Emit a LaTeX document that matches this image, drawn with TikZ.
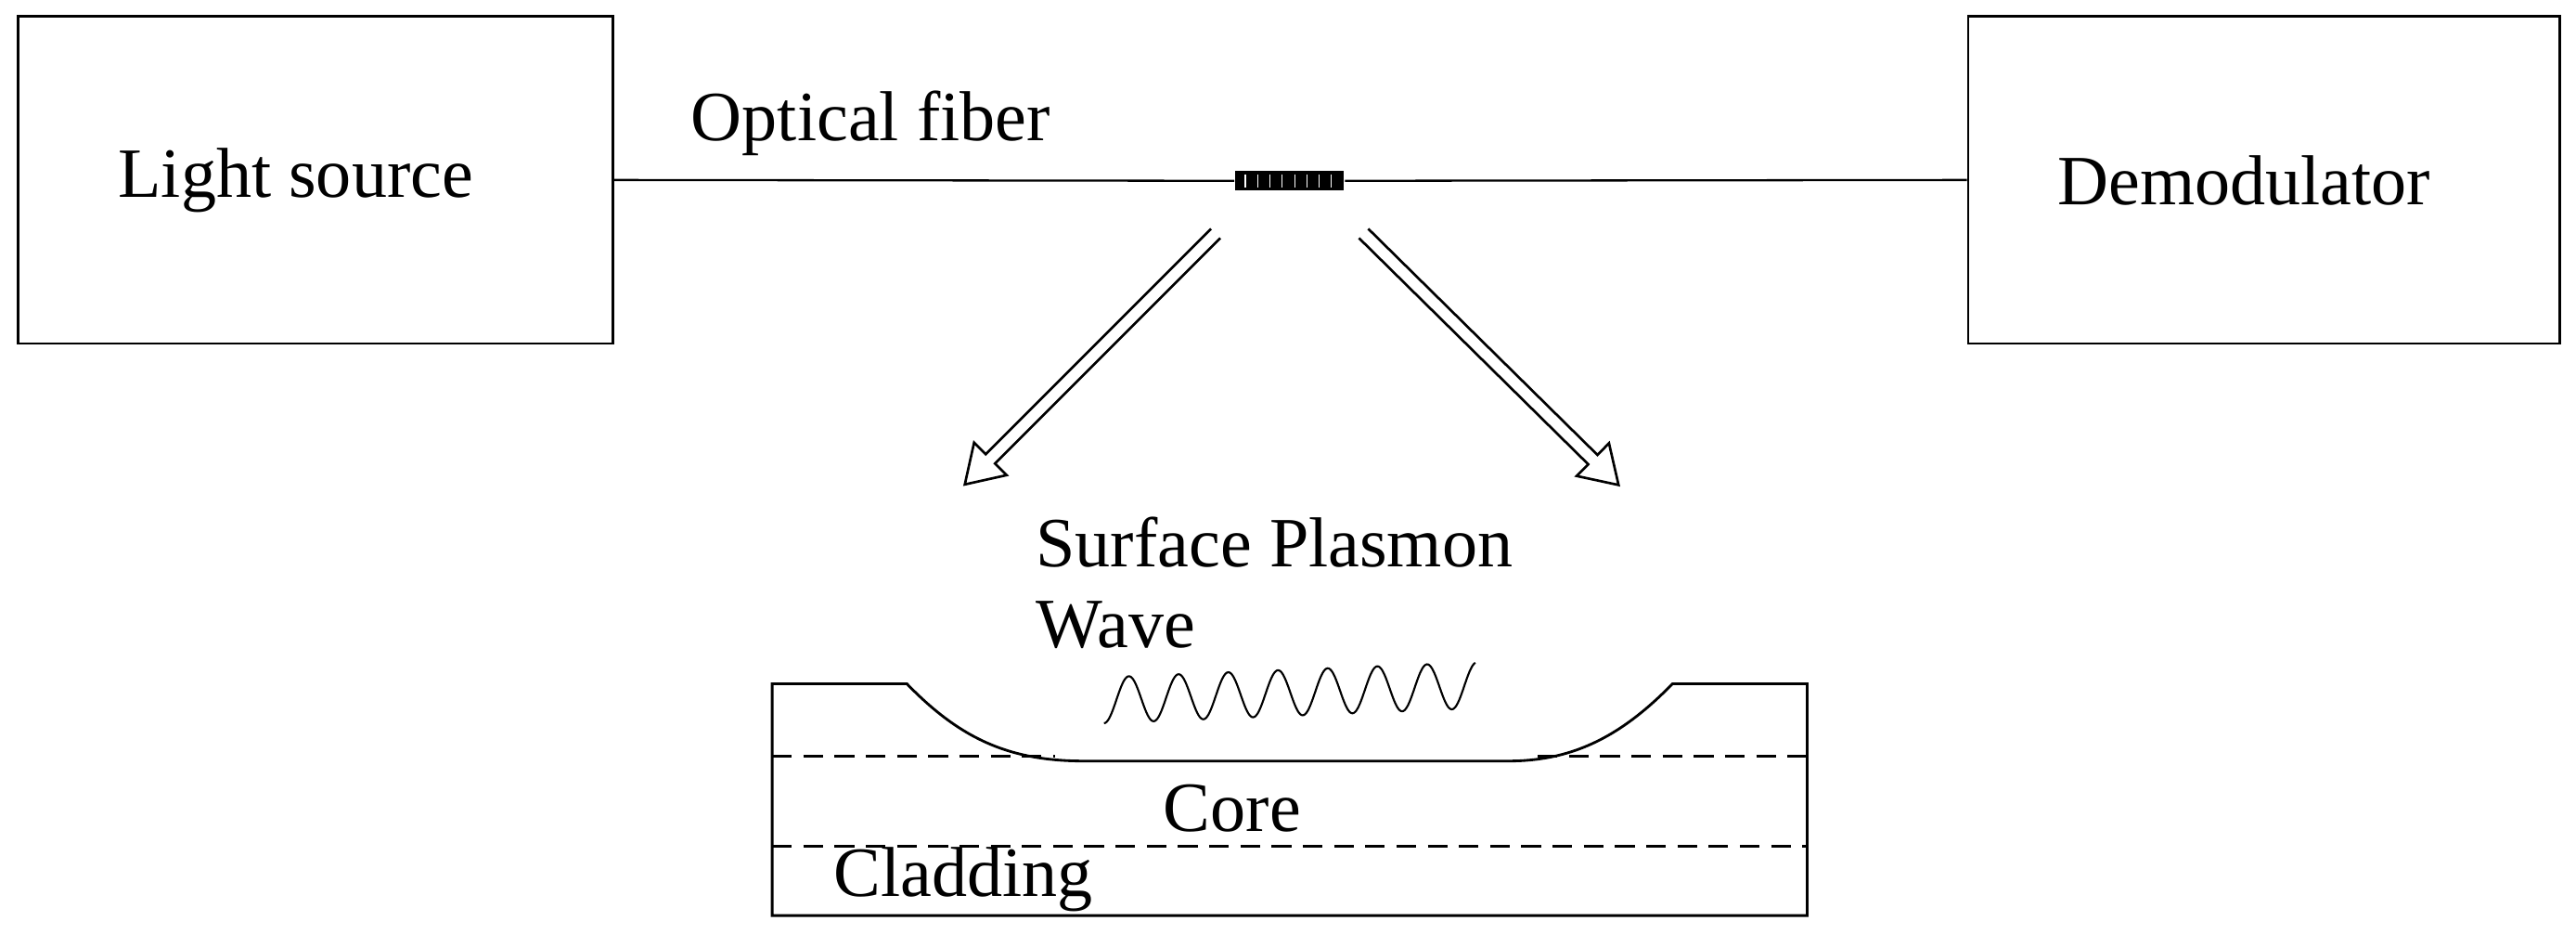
\documentclass[tikz,border=0pt]{standalone}
\usepackage{fontspec}
\setmainfont{Liberation Serif}
\begin{document}
\begin{tikzpicture}[x=1pt,y=-1pt,line width=1.3pt,
  lbl/.style={font=\fontsize{43}{48}\selectfont,inner sep=0pt},
  box/.style={draw,line width=1.6pt,inner sep=0pt},
  dsh/.style={dashed,dash pattern=on 12pt off 7pt,line width=1.6pt}]
\useasboundingbox (0,0) rectangle (1568,568);
\node[box,minimum width=362pt,minimum height=199pt] (ls) at (192,109.5) {};
\node[lbl] at (180,110) {Light source};
\node[box,minimum width=360pt,minimum height=199pt] (dm) at (1378,109.5) {};
\node[lbl] at (1366,110) {Demodulator};
\node[fill=black,minimum width=66pt,minimum height=12pt,inner sep=0pt] (sen) at (785,110) {};
\draw (ls.east) -- (sen.west);
\draw (sen.east) -- (dm.west);
\node[lbl] (of) at (530,75) {Optical fiber};
\foreach \x in {0,...,7}{\draw[white,line width=0.6pt] (758+\x*7.5,106)--(758+\x*7.5,114);}
\coordinate (a1) at (740,142);
\coordinate (a2) at (830,142);
\begin{scope}[shift={(a1)},rotate=-135,line width=1.5pt]
\draw (0,4)--(194,4)--(194,14)--(216,0)--(194,-14)--(194,-4)--(0,-4);
\end{scope}
\begin{scope}[shift={(a2)},rotate=-44.6,line width=1.5pt]
\draw (0,4)--(196,4)--(196,14)--(218,0)--(196,-14)--(196,-4)--(0,-4);
\end{scope}
\node[lbl,anchor=west] at (630,330) {Surface Plasmon};
\node[lbl,anchor=west] at (630,380) {Wave};
\draw[line width=1.6pt] (470,416)--(470,557)--(1100,557)--(1100,416)--(1018,416)
  .. controls (985,450) and (955,463) .. (918,463) -- (660,463)
  .. controls (615,463) and (585,450) .. (552,416) -- cycle;
\draw[dsh] (470,460)--(642,460);
\draw[dsh] (936,460)--(1100,460);
\draw[dsh] (470,515)--(1100,515);
\draw[line width=1.2pt,domain=0:226,samples=300,smooth] plot ({672+\x},{426-14*sin(11.9*\x-90)-0.04*\x});
\node[lbl] at (750,492) {Core};
\node[lbl,anchor=west] at (507,535) {Cladding};
\end{tikzpicture}
\end{document}
